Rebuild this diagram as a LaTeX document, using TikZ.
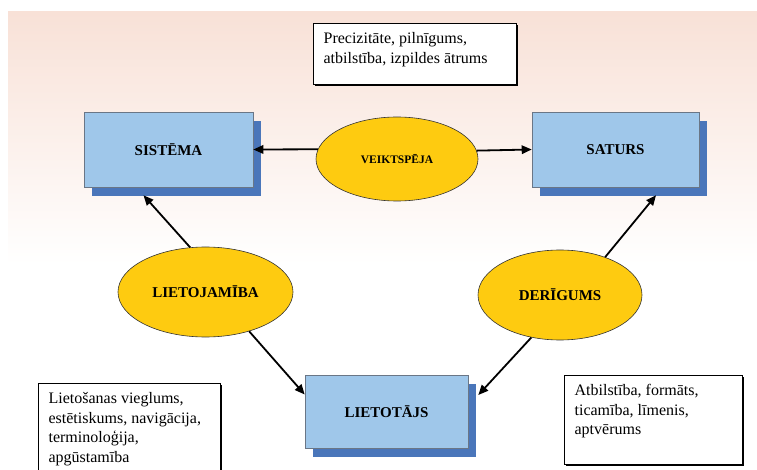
\documentclass[tikz,border=0pt]{standalone}
\usepackage{fontspec}
\setmainfont{Liberation Serif}
\usetikzlibrary{shapes.geometric,arrows.meta,shadows}
\definecolor{bgpeach}{HTML}{F8E1D7}
\definecolor{boxblue}{HTML}{9FC7EA}
\definecolor{shadowblue}{HTML}{4A76BA}
\definecolor{ellyellow}{HTML}{FECB10}
\definecolor{boxedge}{HTML}{6A7686}
\begin{document}
\begin{tikzpicture}[x=1pt,y=-1pt,
  bluebox/.style={rectangle, draw=boxedge, line width=0.6pt, fill=boxblue,
    font=\fontsize{15}{18}\selectfont\bfseries, inner sep=0pt,
    drop shadow={shadow xshift=8pt, shadow yshift=-9pt, fill=shadowblue, opacity=1}},
  oval/.style={ellipse, draw=black!80, line width=0.6pt, fill=ellyellow, inner sep=0pt,
    font=\fontsize{15}{18}\selectfont\bfseries},
  note/.style={rectangle, draw=black, line width=1.2pt, fill=white, anchor=north west,
    inner xsep=10pt, inner ysep=9pt, font=\fontsize{16}{19.5}\selectfont,
    drop shadow={shadow xshift=1.2pt, shadow yshift=-1.2pt, fill=black, opacity=1}},
  arr/.style={-{Triangle[length=10pt,width=8.5pt]}, line width=1.8pt, black}]

\useasboundingbox (0,0) rectangle (757,470);
\clip (0,0) rectangle (757,470);
\shade[top color=bgpeach, bottom color=white] (8,12) rectangle (757,265);

% boxes
\node[bluebox, minimum width=169pt, minimum height=75pt] (sis) at (168.5,149.5) {SISTĒMA};
\node[bluebox, minimum width=167pt, minimum height=75pt] (sat) at (615.5,149.5) {SATURS};
\node[bluebox, minimum width=163pt, minimum height=73pt] (liet) at (386.5,411.5) {LIETOTĀJS};

% ellipses
\node[oval, minimum width=162pt, minimum height=84pt, font=\fontsize{11.5}{14}\selectfont\bfseries] (veik) at (397,159) {VEIKTSPĒJA};
\node[oval, minimum width=175pt, minimum height=90pt] (lie) at (205.5,292) {LIETOJAMĪBA};
\node[oval, minimum width=164pt, minimum height=90pt] (der) at (560,295) {DERĪGUMS};

% notes
\node[note] (n1) at (313,23) {\parbox[c][43pt][t]{183pt}{\raggedright Precizitāte, pilnīgums,\\atbilstība, izpildes ātrums}};
\node[note] (n2) at (38,383) {\parbox[c][110pt][t]{162pt}{\raggedright Lietošanas vieglums,\\estētiskums, navigācija,\\terminoloģija,\\apgūstamība}};
\node[note] (n3) at (564,375) {\parbox[c][71pt][t]{158pt}{\raggedright Atbilstība, formāts,\\ticamība, līmenis,\\aptvērums}};

% connectors
\draw[arr] (veik.173.5) -- (sis.east);
\draw[arr] (veik.6.5) -- (sat.west);
\draw[arr] (lie.109) -- ([xshift=-25pt,yshift=-8pt]sis.south);
\draw[arr] (der.40) -- ([xshift=40.5pt,yshift=-8pt]sat.south);
\draw[arr] (lie.-42) -- ([yshift=17pt]liet.west);
\draw[arr] (der.236) -- ([xshift=10pt,yshift=16.5pt]liet.east);
\end{tikzpicture}
\end{document}
